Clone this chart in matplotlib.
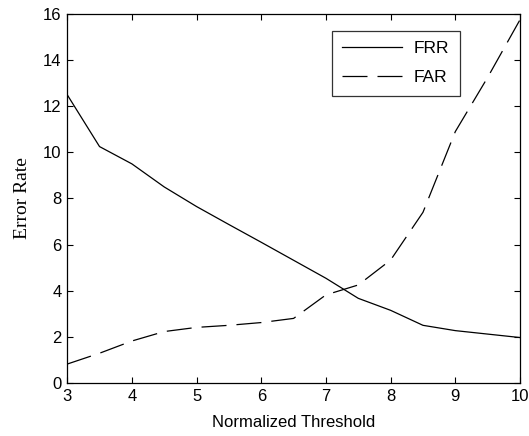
import numpy as np
import matplotlib
matplotlib.use('Agg')
import matplotlib.pyplot as plt

# seuils normalisés et taux d'erreur
threshold = [3, 3.5, 4, 4.5, 5, 5.5, 6, 6.5, 7, 7.5, 8, 8.5, 9, 9.5, 10]
frr = [12.5, 10.25, 9.5, 8.5, 7.65, 6.87, 6.1, 5.32, 4.54, 3.67, 3.15, 2.5, 2.27, 2.12, 1.97]
far = [0.82, 1.29, 1.82, 2.23, 2.41, 2.5, 2.62, 2.8, 3.82, 4.25, 5.33, 7.4, 10.9, 13.25, 15.75]

xticks = [3, 4, 5, 6, 7, 8, 9, 10]
yticks = [0, 2, 4, 6, 8, 10, 12, 14, 16]

plt.rcParams['font.family'] = 'Liberation Sans'

fig = plt.figure(figsize=(5.29, 4.36), dpi=100)
ax = fig.add_axes([0.127, 0.1216, 0.856, 0.8464])

ax.plot(threshold, frr, color='black', linewidth=0.9, label='FRR')
ax.plot(threshold, far, color='black', linewidth=0.9, dashes=(20, 8), label='FAR')

ax.set_xlim(3, 10)
ax.set_ylim(0, 16)
ax.set_xticks(xticks)
ax.set_yticks(yticks)
ax.tick_params(direction='in', length=4, width=0.8, labelsize=12,
               top=True, right=True, pad=4)
for s in ax.spines.values():
    s.set_linewidth(0.9)

ax.set_xlabel('Normalized Threshold', fontsize=12, labelpad=8)
ax.set_ylabel('Error Rate', fontsize=14, family='Liberation Serif', labelpad=9)

leg = ax.legend(loc='upper right', bbox_to_anchor=(0.8675, 0.954), fontsize=12.5,
                frameon=True, fancybox=False, edgecolor='black', borderaxespad=0,
                handlelength=3.45, borderpad=0.6, labelspacing=0.78, handletextpad=0.7)
leg.get_frame().set_linewidth(0.9)

fig.savefig('out.png', dpi=100)
